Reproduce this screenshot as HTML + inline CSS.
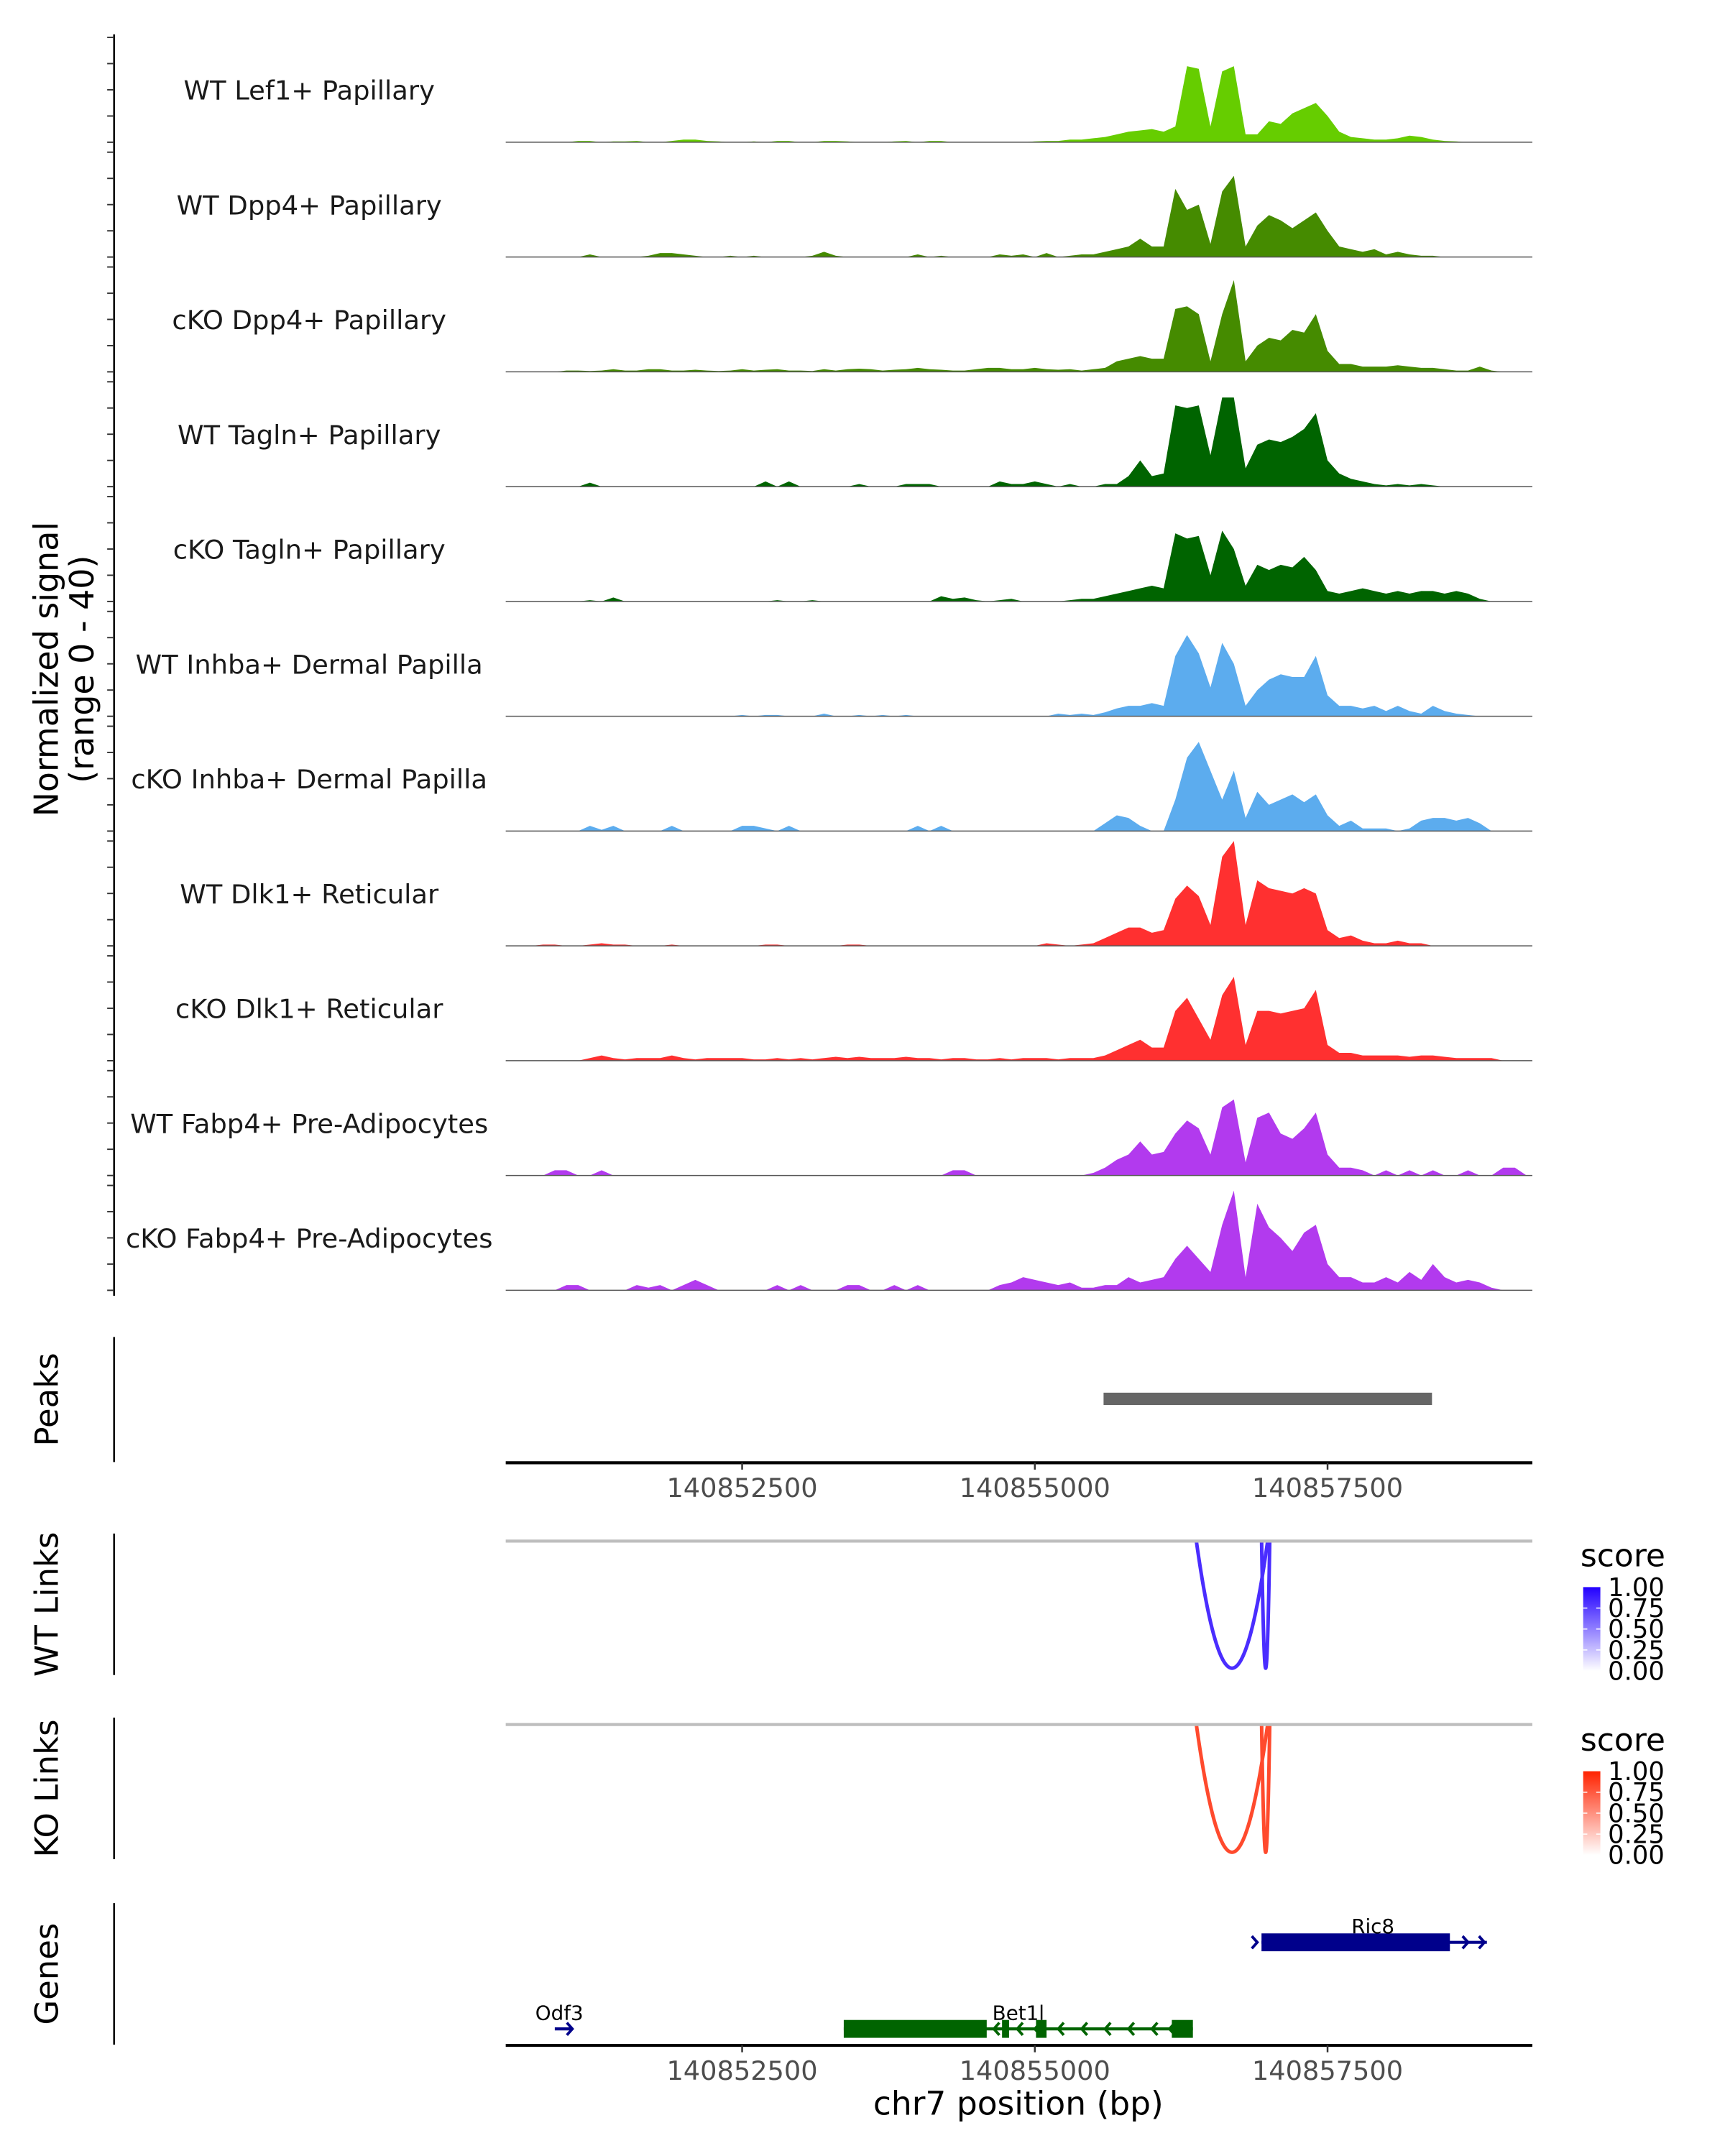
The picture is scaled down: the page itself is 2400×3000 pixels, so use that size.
<!DOCTYPE html>
<html><head><meta charset="utf-8">
<style>
html,body{margin:0;padding:0;background:#fff;}
svg{display:block;}
text{font-family:"DejaVu Sans","Liberation Sans",sans-serif;}
</style></head>
<body>
<svg id="chart" xmlns="http://www.w3.org/2000/svg" width="2400" height="3000" viewBox="0 0 1255.2 1569" preserveAspectRatio="none">
<defs>
<linearGradient id="gradWT" x1="0" y1="1" x2="0" y2="0"><stop offset="0" stop-color="#ffffff"/><stop offset="1" stop-color="#2200ff"/></linearGradient>
<linearGradient id="gradKO" x1="0" y1="1" x2="0" y2="0"><stop offset="0" stop-color="#ffffff"/><stop offset="1" stop-color="#ff2200"/></linearGradient>
<clipPath id="clipWT"><rect x="368" y="1121" width="747" height="110"/></clipPath>
<clipPath id="clipKO"><rect x="368" y="1255" width="747" height="110"/></clipPath>
</defs>
<g id="root"></g>
</svg>
<script>
// ---- data ----
const regionStart = 140850481;
const regionEnd = 140859249;
const binStart = 140850500;
const binSize = 100;
const xTicks = [140852500, 140855000, 140857500];
const xTickLabels = ["140852500", "140855000", "140857500"];
const trackNames = ["WT Lef1+ Papillary","WT Dpp4+ Papillary","cKO Dpp4+ Papillary","WT Tagln+ Papillary","cKO Tagln+ Papillary","WT Inhba+ Dermal Papilla","cKO Inhba+ Dermal Papilla","WT Dlk1+ Reticular","cKO Dlk1+ Reticular","WT Fabp4+ Pre-Adipocytes","cKO Fabp4+ Pre-Adipocytes"];
const trackColors = ["#66cd00","#458b00","#458b00","#006400","#006400","#5cacee","#5cacee","#ff3030","#ff3030","#b23aee","#b23aee"];
const sigLef1WT = [0,0,0,0,0,0,0.5,0.5,0,0.3,0.3,0.5,0,0,0.5,1,1,0.5,0.3,0,0,0.3,0,0.5,0.5,0,0,0.5,0.5,0.3,0,0,0,0.3,0.5,0,0.5,0.5,0,0,0,0,0,0,0,0.3,0.5,0.5,1,1,
 1.5,2,3,4,4.5,5,4,6,29,28,6,27,29,3,3,8,7,11,13,15,10,4,2,1.5,1,1,1.5,2.5,2,1,0.5,0.3,0,0,0,0,0,0];
const sigDpp4WT = [0,0,0,0,0,0,0,1,0,0,0,0,0.5,1.5,1.5,1,0.5,0,0,0.5,0,0.5,0,0,0,0,0.5,2,0.5,0,0,0,0,0,0,1,0,0.5,0,0,0,0,1,0.5,1,0,1.5,0,0.5,1,
 1,2,3,4,7,4,4,26,18,20,5,25,31,4,12,16,14,11,14,17,10,4,3,2,3,1,2,1,0.5,0.5,0,0,0,0,0,0,0,0];
const sigDpp4KO = [0,0,0,0,0,0.5,0.5,0.3,0.5,1,0.5,0.5,1,1,0.5,0.5,0.8,0.5,0.3,0.5,1,0.5,0.8,1,0.5,0.5,0.3,1,0.5,1,1.2,1,0.5,0.8,1,1.5,1,0.8,0.5,0.5,1,1.5,1.5,1,1,1.5,1,0.8,1,0.5,
 1,1.5,4,5,6,5,5,24,25,22,4,22,35,4,10,13,12,16,15,22,8,3,3,2,2,2,2.5,2,1.5,1.5,1,0.5,0.5,2,0.5,0,0,0];
const sigTaglnWT = [0,0,0,0,0,0,0,1.5,0,0,0,0,0,0,0,0,0,0,0,0,0,0,2,0,2,0,0,0,0,0,1,0,0,0,1,1,1,0,0,0,0,0,2,1,1,2,1,0,1,0,
 0,1,1,4,10,4,5,31,30,31,12,34,34,7,16,18,17,19,22,28,10,5,3,2,1,0.5,1,0.5,1,0.5,0,0,0,0,0,0,0,0];
const sigTaglnKO = [0,0,0,0,0,0,0,0.5,0,1.5,0,0,0,0,0,0,0,0,0,0,0,0,0,0.5,0,0,0.5,0,0,0,0,0,0,0,0,0,0,2,1,1.5,0.5,0,0.5,1,0,0,0,0,0.5,1,
 1,2,3,4,5,6,5,26,24,25,10,27,20,6,14,12,14,13,17,12,4,3,4,5,4,3,4,3,4,4,3,4,3,1,0,0,0,0];
const sigInhbaWT = [0,0,0,0,0,0,0,0,0,0,0,0,0,0,0,0,0,0,0,0,0.5,0,0.5,0.5,0,0,0,1,0,0,0.5,0,0.5,0,0.5,0,0,0,0,0,0,0,0,0,0,0,0,1,0.5,1,
 0.5,1.5,3,4,4,5,4,23,31,24,11,28,20,4,10,14,16,15,15,23,8,4,4,3,4,2,4,2,1,4,2,1,0.5,0,0,0,0,0];
const sigInhbaKO = [0,0,0,0,0,0,0,2,0.5,2,0,0,0,0,2,0,0,0,0,0,2,2,1,0,2,0,0,0,0,0,0,0,0,0,0,2,0,2,0,0,0,0,0,0,0,0,0,0,0,0,
 0,3,6,5,2,0,0,12,28,34,23,12,23,5,15,10,12,14,11,14,6,2,4,1,1,1,0,1,4,5,5,4,5,3,0,0,0,0];
const sigDlk1WT = [0,0,0,0.5,0.5,0,0,0.5,1,0.5,0.5,0,0,0,0.5,0,0,0,0,0,0,0,0.5,0.5,0,0,0,0,0,0.5,0.5,0,0,0,0,0,0,0,0,0,0,0,0,0,0,0,1,0.5,0,0.5,
 1,3,5,7,7,5,6,18,23,19,8,34,40,8,25,22,21,20,22,20,6,3,4,2,1,1,2,1,1,0,0,0,0,0,0,0,0,0];
const sigDlk1KO = [0,0,0,0,0,0,0,1,2,1,0.5,1,1,1,2,1,0.5,1,1,1,1,0.5,0.5,1,0.5,1,0.5,1,1.5,1,1.5,1,1,1,1.5,1,1,0.5,1,1,0.5,0.5,1,0.5,1,1,1,0.5,1,1,
 1,2,4,6,8,5,5,19,24,16,8,25,32,6,19,19,18,19,20,27,6,3,3,2,2,2,2,1.5,2,2,1.5,1,1,1,1,0,0,0];
const sigFabp4WT = [0,0,0,0,2,2,0,0,2,0,0,0,0,0,0,0,0,0,0,0,0,0,0,0,0,0,0,0,0,0,0,0,0,0,0,0,0,0,2,2,0,0,0,0,0,0,0,0,0,0,
 1,3,6,8,13,8,9,16,21,18,8,26,29,5,22,24,16,14,18,24,8,3,3,2,0,2,0,2,0,2,0,0,2,0,0,3,3,0];
const sigFabp4KO = [0,0,0,0,0,2,2,0,0,0,0,2,1,2,0,2,4,2,0,0,0,0,0,2,0,2,0,0,0,2,2,0,0,2,0,2,0,0,0,0,0,0,2,3,5,4,3,2,3,1,
 1,2,2,5,3,4,5,12,17,12,7,25,38,5,33,24,20,15,22,25,10,5,5,3,3,5,3,7,4,10,5,3,4,3,1,0,0,0];
const signals = [sigLef1WT,sigDpp4WT,sigDpp4KO,sigTaglnWT,sigTaglnKO,sigInhbaWT,sigInhbaKO,sigDlk1WT,sigDlk1KO,sigFabp4WT,sigFabp4KO];
const peakStarts = [140855587];
const peakEnds = [140858392];
const wtLinkStarts = [140856373, 140856936];
const wtLinkEnds = [140856995, 140857007];
const wtLinkScores = [0.85, 0.85];
const koLinkStarts = [140856373, 140856936];
const koLinkEnds = [140856995, 140857007];
const koLinkScores = [0.85, 0.85];
const legendTicks = [0, 0.25, 0.5, 0.75, 1];
const legendTickLabels = ["0.00","0.25","0.50","0.75","1.00"];

// ---- layout ----
const NS = "http://www.w3.org/2000/svg";
const root = document.getElementById("root");
const X0 = 368, X1 = 1115;
function xs(bp){ return X0 + (bp - regionStart) / (regionEnd - regionStart) * (X1 - X0); }
const trackBase0 = 103.5, trackStep = 83.55, unitPx = 76.3 / 40;
function ys(i, v){ return trackBase0 + i * trackStep - v * unitPx; }
function mk(tag, attrs, parent){
  const e = document.createElementNS(NS, tag);
  for (const k in attrs) e.setAttribute(k, attrs[k]);
  (parent || root).appendChild(e);
  return e;
}
function txt(s, attrs, parent){ const e = mk("text", attrs, parent); e.textContent = s; return e; }

// left y axis
let el = mk("line", {x1:83, y1:25, x2:83, y2:943, stroke:"#000", "stroke-width":1.3});


for (let i = 0; i < 11; i++) {
  for (let k = 0; k <= 40; k += 10) {
    const t = mk("line", {x1:78, x2:83, y1:ys(i,k), y2:ys(i,k), stroke:"#333", "stroke-width":1});
    
    
  }
}
el = txt("Normalized signal", {x:0, y:0, "font-size":24, "text-anchor":"middle", transform:"translate(42,487) rotate(-90)"});


el = txt("(range 0 - 40)", {x:0, y:0, "font-size":24, "text-anchor":"middle", transform:"translate(68,487) rotate(-90)"});



// tracks
for (let i = 0; i < signals.length; i++) {
  const g = mk("g", {});
  
  
  const base = ys(i, 0);
  let d = "M" + xs(binStart) + "," + base;
  signals[i].forEach((v, j) => { d += " L" + xs(binStart + j * binSize).toFixed(2) + "," + ys(i, v).toFixed(2); });
  d += " L" + xs(binStart + (signals[i].length - 1) * binSize).toFixed(2) + "," + base + " Z";
  const p = mk("path", {d:d, fill:trackColors[i], stroke:"none"}, g);
  
  
  const bl = mk("line", {x1:X0, x2:X1, y1:base, y2:base, stroke:"#555", "stroke-width":0.8}, g);
  
  
  const lb = txt(trackNames[i], {x:225, y:base - 31, "font-size":19.3, "text-anchor":"middle", fill:"#1a1a1a"}, g);
  
  
}

// x axis helper
function xAxis(y, name){
  const g = mk("g", {});
  
  
  mk("line", {x1:X0, x2:X1, y1:y, y2:y, stroke:"#000", "stroke-width":2.2}, g);
  xTicks.forEach((t, j) => {
    mk("line", {x1:xs(t), x2:xs(t), y1:y, y2:y+5, stroke:"#333", "stroke-width":1.3}, g);
    const l = txt(xTickLabels[j], {x:xs(t), y:y+25, "font-size":19.2, "text-anchor":"middle", fill:"#4d4d4d"}, g);
    
    
  });
}
function sideLabel(s, y0, y1, name){
  const ln = mk("line", {x1:83, x2:83, y1:y0, y2:y1, stroke:"#000", "stroke-width":1.3});
  
  
  const t = txt(s, {x:0, y:0, "font-size":23.5, "text-anchor":"middle", transform:"translate(42," + ((y0+y1)/2) + ") rotate(-90)"});
  
  
}

// peaks
sideLabel("Peaks", 973, 1064, "peaks");
peakStarts.forEach((s, j) => {
  const r = mk("rect", {x:xs(s), y:1013.5, width:xs(peakEnds[j]) - xs(s), height:9, fill:"#666"});
  
  
});
xAxis(1064.5, "peaks-x-axis");

// links
function links(starts, ends, scores, topY, botY, color, clip, name){
  const g = mk("g", {"clip-path":"url(#" + clip + ")"});
  
  
  const bg = mk("line", {x1:X0, x2:X1, y1:topY, y2:topY, stroke:"#bebebe", "stroke-width":2.2});
  
  
  starts.forEach((s, j) => {
    const a = xs(s), b = xs(ends[j]);
    const cy = topY + 2 * (botY - topY) * scores[j] / 0.85;
    const p = mk("path", {d:"M" + a + "," + (topY - 4) + " Q" + ((a+b)/2) + "," + cy + " " + b + "," + (topY - 4), fill:"none", stroke:color, "stroke-width":2.6}, g);
    
    
  });
}
function legend(y, grad, name){
  const g = mk("g", {});
  
  
  txt("score", {x:1150, y:y, "font-size":23}, g);
  const top = y + 15, h = 61;
  mk("rect", {x:1152, y:top, width:12.5, height:h, fill:"url(#" + grad + ")"}, g);
  legendTicks.forEach((v, j) => {
    const yy = top + h - v * h;
    if (v > 0 && v < 1) { mk("line", {x1:1152, x2:1155, y1:yy, y2:yy, stroke:"#fff", "stroke-width":0.8}, g); mk("line", {x1:1161.5, x2:1164.5, y1:yy, y2:yy, stroke:"#fff", "stroke-width":0.8}, g); }
    const l = txt(legendTickLabels[j], {x:1170, y:yy + 6.5, "font-size":18.5}, g);
    
    
  });
}
sideLabel("WT Links", 1116, 1219, "wt-links");
links(wtLinkStarts, wtLinkEnds, wtLinkScores, 1121.5, 1216, "#4a2dff", "clipWT", "wt-links-track");
legend(1140, "gradWT", "wt-score-legend");
sideLabel("KO Links", 1250, 1353, "ko-links");
links(koLinkStarts, koLinkEnds, koLinkScores, 1255, 1350, "#ff4a2d", "clipKO", "ko-links-track");
legend(1274, "gradKO", "ko-score-legend");

// genes
sideLabel("Genes", 1385, 1488, "genes");
const genes = mk("g", {});


// Ric8 (+ strand)
mk("line", {x1:xs(140856936), x2:xs(140858861), y1:1413.5, y2:1413.5, stroke:"#00008b", "stroke-width":2.2}, genes);
el = mk("rect", {x:xs(140856936), y:1407, width:xs(140858545)-xs(140856936), height:13, fill:"#00008b"}, genes);


[140856900, 140858700, 140858840].forEach(p => { const x = xs(p); mk("polyline", {points:(x-4)+",1409 "+x+",1413.5 "+(x-4)+",1418", fill:"none", stroke:"#00008b", "stroke-width":2}, genes); });
txt("Ric8", {x:999, y:1407, "font-size":14.5, "text-anchor":"middle"}, genes);
// Bet1l (- strand)
mk("line", {x1:xs(140853368), x2:xs(140856350), y1:1476.5, y2:1476.5, stroke:"#006400", "stroke-width":2.2}, genes);
[[140853368,140854589],[140854720,140854780],[140855010,140855100],[140856170,140856350]].forEach(e => {
  const r = mk("rect", {x:xs(e[0]), y:1470, width:xs(e[1])-xs(e[0]), height:13, fill:"#006400"}, genes);
  
  
});
[140854650,140854850,140855000,140855200,140855400,140855600,140855800,140856000,140856150].forEach(p => { const x = xs(p); mk("polyline", {points:(x+4)+",1472 "+x+",1476.5 "+(x+4)+",1481", fill:"none", stroke:"#006400", "stroke-width":2}, genes); });
txt("Bet1l", {x:741, y:1470, "font-size":14.5, "text-anchor":"middle"}, genes);
// Odf3
mk("line", {x1:xs(140850900), x2:xs(140851050), y1:1476.5, y2:1476.5, stroke:"#00008b", "stroke-width":2.2}, genes);
mk("polyline", {points:(xs(140851050)-4)+",1472 "+xs(140851050)+",1476.5 "+(xs(140851050)-4)+",1481", fill:"none", stroke:"#00008b", "stroke-width":2}, genes);
txt("Odf3", {x:407, y:1470, "font-size":14.5, "text-anchor":"middle"}, genes);
xAxis(1488.5, "genes-x-axis");
el = txt("chr7 position (bp)", {x:741, y:1539, "font-size":23.8, "text-anchor":"middle"});


</script>
</body></html>
